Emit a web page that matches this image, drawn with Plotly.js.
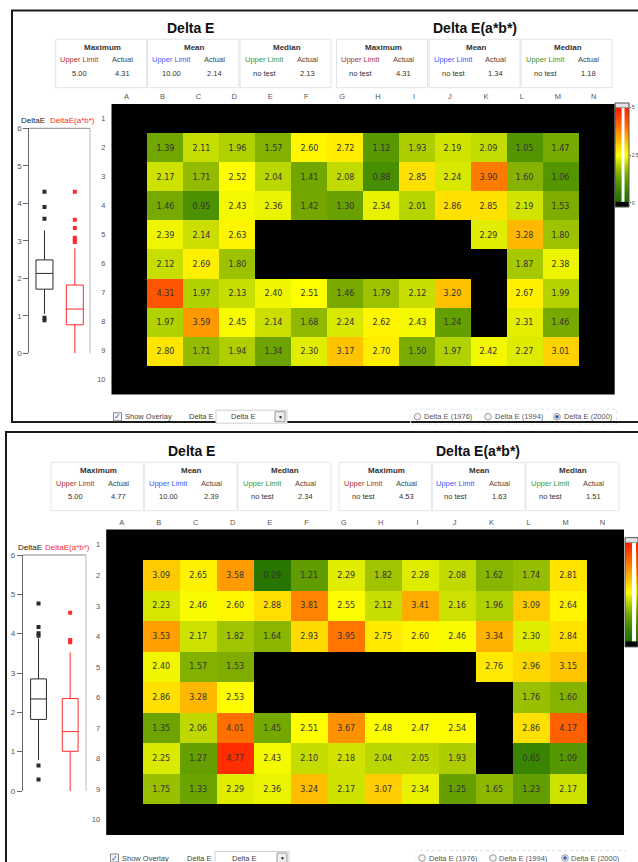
<!DOCTYPE html>
<html><head><meta charset="utf-8">
<script src="https://cdn.plot.ly/plotly-3.0.1.min.js"></script>
<style>html,body{margin:0;padding:0;background:#fff;}#chart{width:638px;height:862px;}</style>
</head><body><div id="chart"></div>
<script>
// ---------- data ----------
const columns = ['A','B','C','D','E','F','G','H','I','J','K','L','M','N'];
const rows = ['1','2','3','4','5','6','7','8','9','10'];
// Top panel, Delta E per patch, columns B..M (null = no patch)
const topRow2 = [1.39, 2.11, 1.96, 1.57, 2.60, 2.72, 1.12, 1.93, 2.19, 2.09, 1.05, 1.47];
const topRow3 = [2.17, 1.71, 2.52, 2.04, 1.41, 2.08, 0.88, 2.85, 2.24, 3.90, 1.60, 1.06];
const topRow4 = [1.46, 0.95, 2.43, 2.36, 1.42, 1.30, 2.34, 2.01, 2.86, 2.85, 2.19, 1.53];
const topRow5 = [2.39, 2.14, 2.63, null, null, null, null, null, null, 2.29, 3.28, 1.80];
const topRow6 = [2.12, 2.69, 1.80, null, null, null, null, null, null, null, 1.87, 2.38];
const topRow7 = [4.31, 1.97, 2.13, 2.40, 2.51, 1.46, 1.79, 2.12, 3.20, null, 2.67, 1.99];
const topRow8 = [1.97, 3.59, 2.45, 2.14, 1.68, 2.24, 2.62, 2.43, 1.24, null, 2.31, 1.46];
const topRow9 = [2.80, 1.71, 1.94, 1.34, 2.30, 3.17, 2.70, 1.50, 1.97, 2.42, 2.27, 3.01];
// Bottom panel
const botRow2 = [3.09, 2.65, 3.58, 0.29, 1.21, 2.29, 1.82, 2.28, 2.08, 1.62, 1.74, 2.81];
const botRow3 = [2.23, 2.46, 2.60, 2.88, 3.81, 2.55, 2.12, 3.41, 2.16, 1.96, 3.09, 2.64];
const botRow4 = [3.53, 2.17, 1.82, 1.64, 2.93, 3.95, 2.75, 2.60, 2.46, 3.34, 2.30, 2.84];
const botRow5 = [2.40, 1.57, 1.53, null, null, null, null, null, null, 2.76, 2.96, 3.15];
const botRow6 = [2.86, 3.28, 2.53, null, null, null, null, null, null, null, 1.76, 1.60];
const botRow7 = [1.35, 2.06, 4.01, 1.45, 2.51, 3.67, 2.48, 2.47, 2.54, null, 2.86, 4.17];
const botRow8 = [2.25, 1.27, 4.77, 2.43, 2.10, 2.18, 2.04, 2.05, 1.93, null, 0.65, 1.09];
const botRow9 = [1.75, 1.33, 2.29, 2.36, 3.24, 2.17, 3.07, 2.34, 1.25, 1.65, 1.23, 2.17];

// box plot summaries: [DeltaE, DeltaE(a*b*)]
const boxSeries = ['DeltaE', 'DeltaE(a*b*)'];
const topBoxQ1 = [1.71, 0.76];
const topBoxMedian = [2.13, 1.18];
const topBoxQ3 = [2.49, 1.82];
const topBoxLow = [1.05, 0.00];
const topBoxHigh = [3.28, 2.80];
const topDeltaEOutliers = [4.31, 3.90, 3.59, 0.95, 0.88];
const topAbOutliers = [4.31, 3.56, 3.34, 3.08, 3.02, 2.97];
const botBoxQ1 = [1.82, 1.01];
const botBoxMedian = [2.34, 1.51];
const botBoxQ3 = [2.85, 2.35];
const botBoxLow = [0.79, 0.00];
const botBoxHigh = [3.88, 3.52];
const botDeltaEOutliers = [4.77, 4.17, 4.01, 3.95, 0.65, 0.29];
const botAbOutliers = [4.53, 3.84, 3.78];

// header statistics
const groupTitles = ['Delta E', 'Delta E(a*b*)'];
const statNames = ['Maximum', 'Mean', 'Median'];
const topUpper = ['5.00', '10.00', 'no test', 'no test', 'no test', 'no test'];
const topActual = ['4.31', '2.14', '2.13', '4.31', '1.34', '1.18'];
const botUpper = ['5.00', '10.00', 'no test', 'no test', 'no test', 'no test'];
const botActual = ['4.77', '2.39', '2.34', '4.53', '1.63', '1.51'];
const radioLabels = ['Delta E (1976)', 'Delta E (1994)', 'Delta E (2000)'];
const scaleRange = [0, 5];
const scaleTicks = [0, 2.5, 5];

// ---------- styling ----------
const W = 638, H = 862;
const px = x => x / W;
const py = y => 1 - y / H;
const FONT = 'Liberation Sans, Arial, sans-serif';
const colorscale = [[0,'#1f6c00'],[0.1,'#2f7d00'],[0.2,'#4f9300'],[0.3,'#7aab00'],[0.4,'#b5d300'],
  [0.5,'#ffff00'],[0.6,'#ffd400'],[0.7,'#ffa200'],[0.8,'#ff7000'],[0.9,'#ff4400'],[1,'#ff1a00']];
const boxColors = ['#2b2b2b', '#ff2a2a'];
const limitColors = ['#b03434', '#3b5bff', '#3a9a3a'];

function grid(rowsBM) {
  const empty = columns.map(() => null);
  return [empty].concat(rowsBM.map(r => [null].concat(r, [null])), [empty]);
}
const topZ = grid([topRow2, topRow3, topRow4, topRow5, topRow6, topRow7, topRow8, topRow9]);
const botZ = grid([botRow2, botRow3, botRow4, botRow5, botRow6, botRow7, botRow8, botRow9]);
const fmt = z => z.map(r => r.map(v => v == null ? '' : v.toFixed(2)));

const shapes = [], annotations = [];
function rect(x0, y0, x1, y1, o) {
  shapes.push(Object.assign({type:'rect', xref:'paper', yref:'paper', x0:px(x0), x1:px(x1), y0:py(y1), y1:py(y0),
    line:{width:0}}, o));
}
function circ(cx, cy, r, o) {
  shapes.push(Object.assign({type:'circle', xref:'paper', yref:'paper', x0:px(cx-r), x1:px(cx+r), y0:py(cy+r), y1:py(cy-r)}, o));
}
function text(x, y, s, o) {
  o = o || {};
  annotations.push({xref:'paper', yref:'paper', x:px(x), y:py(y), text:s, showarrow:false,
    xanchor:o.anchor || 'center', yanchor:'middle', borderpad:0,
    font:{family:FONT, size:o.size || 7.5, color:o.color || '#333'}});
}

function heatTrace(z, xa, ya) {
  return {type:'heatmap', x:columns, y:rows, z:z, text:fmt(z), texttemplate:'%{text}',
    textfont:{family:'DejaVu Sans, sans-serif', size:8, color:'#333'},
    colorscale:colorscale, zmin:scaleRange[0], zmax:scaleRange[1], showscale:false,
    xaxis:xa, yaxis:ya, hoverinfo:'skip'};
}
function scaleTrace(xa, ya) {
  return {type:'heatmap', x:[0,1], y:scaleRange, z:scaleRange.map(v => [v, v]), zsmooth:'best',
    colorscale:colorscale, zmin:scaleRange[0], zmax:scaleRange[1], showscale:false,
    xaxis:xa, yaxis:ya, hoverinfo:'skip'};
}
function boxTraces(q1, med, q3, lo, hi, outA, outB, width, xa, ya) {
  const t = [];
  for (let i = 0; i < 2; i++) {
    t.push({type:'box', x:[boxSeries[i]], q1:[q1[i]], median:[med[i]], q3:[q3[i]],
      lowerfence:[lo[i]], upperfence:[hi[i]], width:width, whiskerwidth:0, boxpoints:false,
      fillcolor:'white', line:{color:boxColors[i], width:1}, xaxis:xa, yaxis:ya, hoverinfo:'skip'});
  }
  [outA, outB].forEach((o, i) => t.push({type:'scatter', mode:'markers', x:o.map(() => boxSeries[i]), y:o,
    marker:{symbol:'square', size:4, color:boxColors[i]}, xaxis:xa, yaxis:ya, hoverinfo:'skip'}));
  return t;
}

const data = [].concat(
  [heatTrace(topZ, 'x', 'y'), heatTrace(botZ, 'x2', 'y2')],
  boxTraces(topBoxQ1, topBoxMedian, topBoxQ3, topBoxLow, topBoxHigh, topDeltaEOutliers, topAbOutliers, 0.56, 'x3', 'y3'),
  boxTraces(botBoxQ1, botBoxMedian, botBoxQ3, botBoxLow, botBoxHigh, botDeltaEOutliers, botAbOutliers, 0.5, 'x4', 'y4'),
  [scaleTrace('x5', 'y5'), scaleTrace('x6', 'y6')]
);

// ---------- shapes / annotations ----------
// panel frames
rect(12, 10.5, 700, 422, {line:{color:'#1a1a1a', width:2}, fillcolor:'rgba(0,0,0,0)'});
rect(6, 432, 700, 900, {line:{color:'#1a1a1a', width:2}, fillcolor:'rgba(0,0,0,0)'});
// black plate behind heatmaps
['', '2'].forEach(s => shapes.push({type:'rect', xref:'x'+s+' domain', yref:'y'+s+' domain', x0:0, x1:1, y0:0, y1:1,
  fillcolor:'black', line:{width:0}, layer:'below'}));
// box plot frames
['3', '4'].forEach(s => {
  shapes.push({type:'line', xref:'x'+s+' domain', yref:'y'+s+' domain', x0:0, x1:1, y0:1, y1:1, line:{color:'#888', width:1}});
  shapes.push({type:'line', xref:'x'+s+' domain', yref:'y'+s+' domain', x0:1, x1:1, y0:0, y1:1, line:{color:'#bbb', width:1}});
});
// color scale sliders
[['5', 0.47, 0.68], ['6', 0.44, 0.69]].forEach(([s, a, b]) => {
  const xr = 'x'+s, yr = 'y'+s;
  shapes.push({type:'rect', xref:xr, yref:yr, x0:a, x1:b, y0:0.05, y1:5.0, fillcolor:'white', line:{width:0}});
  shapes.push({type:'rect', xref:xr, yref:yr, x0:0, x1:1, y0:4.98, y1:5.3, fillcolor:'#e4e4e4', line:{color:'#999', width:1}});
  shapes.push({type:'rect', xref:xr, yref:yr, x0:0, x1:1, y0:-0.3, y1:0.06, fillcolor:'#050505', line:{width:0}});
  shapes.push({type:'rect', xref:xr+' domain', yref:yr+' domain', x0:0, x1:1, y0:0, y1:1, fillcolor:'rgba(0,0,0,0)', line:{color:'#555', width:1}});
});

function header(dy, lefts, bw, upper, actual, titleX) {
  groupTitles.forEach((t, g) => text(titleX[g], 27.7 + dy, '<b>' + t + '</b>', {size:14, color:'#111'}));
  lefts.forEach((l, i) => {
    const s = i % 3, y0 = 39.3 + dy;
    rect(l, y0, l + bw, y0 + 48.4, {line:{color:'#dfe5ec', width:1}, fillcolor:'rgba(0,0,0,0)'});
    text(l + 47, y0 + 8, '<b>' + statNames[s] + '</b>', {size:8, color:'#333'});
    text(l + 24, y0 + 20.7, 'Upper Limit', {color:limitColors[s]});
    text(l + 67, y0 + 20.7, 'Actual', {color:'#444'});
    text(l + 24, y0 + 34, upper[i], {color:'#333'});
    text(l + 67, y0 + 34, actual[i], {color:'#333'});
  });
}
header(0, [55.7, 147.7, 240, 336.5, 429, 521], 91, topUpper, topActual, [190.7, 475]);
header(423, [51, 144, 238, 339, 432, 526], 93, botUpper, botActual, [191, 478]);

// box legends
function boxLegend(y, xa, xb) {
  text(xa, y, boxSeries[0], {size:8, color:'#222'});
  text(xb, y, boxSeries[1], {size:8, color:boxColors[1]});
}
boxLegend(120.7, 33, 72.5);
boxLegend(547.3, 29.5, 67.5);

// controls
function controls(yc, cb, lab, dd, arrow, box, radios, rtext) {
  rect(cb, yc - 4, cb + 8, yc + 4, {line:{color:'#8a8a8a', width:1}, fillcolor:'#f5f5f5'});
  text(cb + 4, yc, '✓', {size:8, color:'#2050c0'});
  text(cb + 10, yc, 'Show Overlay', {anchor:'left', color:'#444'});
  text(lab, yc, 'Delta E', {anchor:'left', color:'#444'});
  rect(dd[0], yc - 6.5, dd[1], yc + 6.5, {line:{color:'#cfcfcf', width:1}, fillcolor:'white'});
  text((dd[0] + arrow) / 2 - 2, yc, 'Delta E', {color:'#444'});
  rect(arrow, yc - 5, arrow + 10, yc + 5, {line:{color:'#999', width:1}, fillcolor:'#eeeeee'});
  text(arrow + 5, yc, '▼', {size:5, color:'#222'});
  rect(box[0], yc - 7.5, box[1], yc + 7.5, {line:{color:'#e1e6ee', width:1, dash:'dot'}, fillcolor:'rgba(0,0,0,0)'});
  radios.forEach((cx, i) => {
    circ(cx, yc, 3.3, {line:{color:'#9a9a9a', width:1}, fillcolor:'#f4f4f4'});
    if (i === 2) circ(cx, yc, 1.8, {line:{width:0}, fillcolor:'#2a5db0'});
    text(rtext[i], yc, radioLabels[i], {anchor:'left', color:'#555'});
  });
}
controls(416.7, 113.5, 187.5, [216, 287], 275, [410.6, 616.5], [417.5, 488, 557], [423, 494, 563]);
controls(858, 110.5, 186, [215, 289], 277, [416, 625], [422, 493, 565], [428, 498, 570]);

// ---------- axes ----------
const tf = {family:FONT, size:7.5, color:'#555'};
function heatAxes(xd, yd, xa, ya) {
  return [{domain:[px(xd[0]), px(xd[1])], type:'category', side:'top', anchor:ya, tickfont:tf, ticks:'',
      showgrid:false, zeroline:false, showline:false, ticklabelshift:-3, ticklabelstandoff:2, fixedrange:true},
    {domain:[py(yd[1]), py(yd[0])], type:'category', autorange:'reversed', anchor:xa, tickfont:tf, ticks:'',
      showgrid:false, zeroline:false, showline:false, ticklabelstandoff:5, fixedrange:true}];
}
function boxAxes(xd, yd, xa, ya) {
  return [{domain:[px(xd[0]), px(xd[1])], type:'category', categoryorder:'array', categoryarray:boxSeries,
      range:[-0.5, 1.5], anchor:ya, showticklabels:false, ticks:'', showgrid:false, zeroline:false, showline:false},
    {domain:[py(yd[1]), py(yd[0])], range:[0, 6], dtick:1, tick0:0, anchor:xa, ticks:'outside', ticklen:5,
      tickcolor:'#666', tickfont:{family:FONT, size:8, color:'#555'}, showline:true, linecolor:'#666', linewidth:1,
      showgrid:false, zeroline:false}];
}
const [xa1, ya1] = heatAxes([111.5, 614.7], [103.9, 394.4], 'x', 'y');
const [xa2, ya2] = heatAxes([106.2, 624], [529.6, 835], 'x2', 'y2');
const [xa3, ya3] = boxAxes([29.3, 90], [128.3, 353.3], 'x3', 'y3');
const [xa4, ya4] = boxAxes([22.7, 86], [555, 791], 'x4', 'y4');

const layout = {
  width:W, height:H, autosize:false, margin:{l:0, r:0, t:0, b:0, pad:0},
  paper_bgcolor:'white', plot_bgcolor:'white', showlegend:false, font:{family:FONT},
  xaxis:xa1, yaxis:ya1, xaxis2:xa2, yaxis2:ya2, xaxis3:xa3, yaxis3:ya3, xaxis4:xa4, yaxis4:ya4,
  xaxis5:{domain:[px(615), px(629)], anchor:'y5', range:[0, 1], visible:false},
  yaxis5:{domain:[py(207), py(103)], anchor:'x5', range:[-0.21, 5.21], side:'right', tickvals:scaleTicks,
    ticktext:scaleTicks.map(String), ticks:'outside', ticklen:1, tickcolor:'#444',
    tickfont:{family:FONT, size:4.5, color:'#333'}, showgrid:false, zeroline:false, showline:false},
  xaxis6:{domain:[px(625), 1], anchor:'y6', range:[0, 13/16], visible:false},
  yaxis6:{domain:[py(646.9), py(537.7)], anchor:'x6', range:[-0.21, 5.21], visible:false},
  shapes:shapes, annotations:annotations
};
Plotly.newPlot('chart', data, layout, {staticPlot:true, displayModeBar:false});
</script></body></html>
